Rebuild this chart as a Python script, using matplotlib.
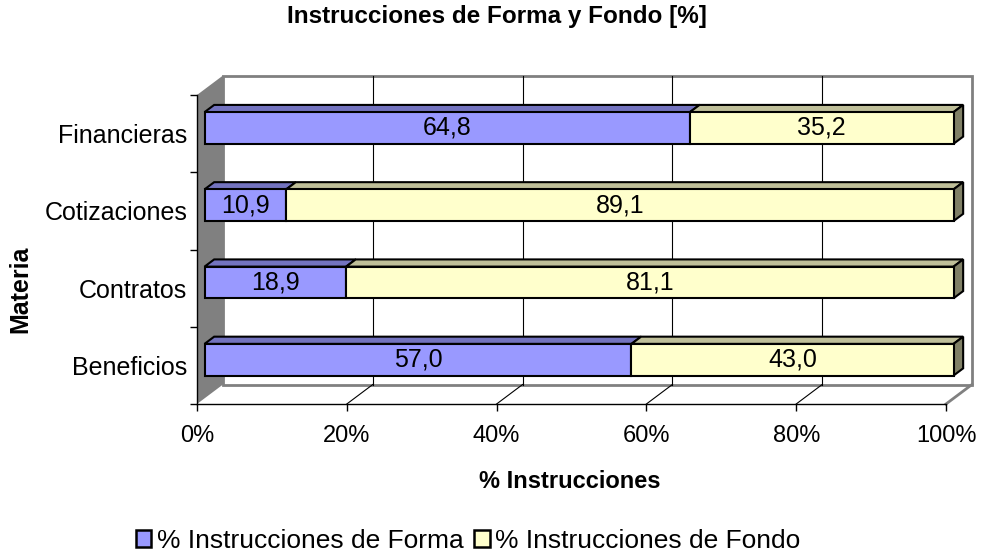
import matplotlib.pyplot as plt
from matplotlib.patches import Polygon, Patch

categorias = ['Beneficios', 'Contratos', 'Cotizaciones', 'Financieras']
forma = [57.0, 18.9, 10.9, 64.8]
fondo = [43.0, 81.1, 89.1, 35.2]
series = ['% Instrucciones de Forma', '% Instrucciones de Fondo']
ticks = [0, 20, 40, 60, 80, 100]

plt.rcParams['font.family'] = ['Liberation Sans', 'DejaVu Sans']

fig = plt.figure(figsize=(9.82, 5.54), dpi=100)
ax = fig.add_axes([197 / 982, 150 / 554, 749 / 982, 309 / 554])
ax.set_xlim(0, 100)
ax.set_ylim(-0.5, len(categorias) - 0.5)
ax.patch.set_visible(False)

# fake 3d depth, full depth offset in data units
ox = 26 / 7.49
oy = 19.5 / 77.25


def p(x, y, d):
    return (x + d * ox, y + d * oy)


ytop = len(categorias) - 0.5

# back wall
ax.add_patch(Polygon([p(0, -0.5, 1), p(100, -0.5, 1), p(100, ytop, 1), p(0, ytop, 1)],
                     closed=True, fc='white', ec='#808080', lw=2, clip_on=False, zorder=1))
for t in ticks[1:-1]:
    ax.plot(*zip(p(t, -0.5, 1), p(t, ytop, 1)), color='black', lw=0.8, clip_on=False, zorder=1.5)
    ax.plot(*zip(p(t, -0.5, 0), p(t, -0.5, 1)), color='black', lw=0.8, clip_on=False, zorder=1.5)
ax.plot(*zip(p(100, -0.5, 0), p(100, -0.5, 1)), color='#808080', lw=2, clip_on=False, zorder=1.5)

# left wall
ax.add_patch(Polygon([p(0, -0.5, 0), p(0, ytop, 0), p(0, ytop, 1), p(0, -0.5, 1)],
                     closed=True, fc='#808080', ec='none', clip_on=False, zorder=2))

# bars
h = 0.41
df, db = 0.29, 0.66
colores = [('#9999FF', '#7373BF', '#5C5C99'), ('#FFFFCC', '#BFBF99', '#808066')]
for i, (a, b) in enumerate(zip(forma, fondo)):
    y0, y1 = i - h / 2, i + h / 2
    segs = [(0, a), (a, a + b)]
    for k, (x0, x1) in enumerate(segs):
        front, top, side = colores[k]
        ax.add_patch(Polygon([p(x0, y1, df), p(x1, y1, df), p(x1, y1, db), p(x0, y1, db)],
                             fc=top, ec='black', lw=1.5, clip_on=False, zorder=3))
        if k == len(segs) - 1:
            ax.add_patch(Polygon([p(x1, y0, df), p(x1, y0, db), p(x1, y1, db), p(x1, y1, df)],
                                 fc=side, ec='black', lw=1.5, clip_on=False, zorder=3))
        ax.add_patch(Polygon([p(x0, y0, df), p(x1, y0, df), p(x1, y1, df), p(x0, y1, df)],
                             fc=front, ec='black', lw=1.5, clip_on=False, zorder=4))
        v = x1 - x0
        cx, cy = p((x0 + x1) / 2, i, df)
        ax.text(cx, cy, f'{v:.1f}'.replace('.', ','), ha='center', va='center',
                fontsize=18, zorder=5)

# front axes
for s in ['top', 'right']:
    ax.spines[s].set_visible(False)
for s in ['left', 'bottom']:
    ax.spines[s].set_linewidth(1)
    ax.spines[s].set_zorder(2.5)
ax.set_xticks(ticks)
ax.set_xticklabels([f'{t}%' for t in ticks], fontsize=17)
ax.set_yticks([y - 0.5 for y in range(len(categorias) + 1)])
ax.set_yticklabels([])
ax.set_yticks(range(len(categorias)), minor=True)
ax.set_yticklabels(categorias, minor=True, fontsize=18)
ax.tick_params(axis='x', length=5, width=1, pad=10)
ax.tick_params(axis='y', which='major', length=5, width=1)
ax.tick_params(axis='y', which='minor', length=0, pad=7)

fig.text(497 / 982, 1 - 17 / 554, 'Instrucciones de Forma y Fondo [%]', ha='center', va='center',
         fontsize=17.5, fontweight='bold')
fig.text(570 / 982, 1 - 482 / 554, '% Instrucciones', ha='center', va='center',
         fontsize=17, fontweight='bold')
fig.text(20 / 982, 1 - 289 / 554, 'Materia', ha='center', va='center', rotation=90,
         fontsize=18, fontweight='bold')

handles = [Patch(fc=colores[k][0], ec='black', lw=1.8) for k in range(2)]
fig.legend(handles, series, loc='center', bbox_to_anchor=(468 / 982, 1 - 541 / 554), ncol=2,
           frameon=False, fontsize=19, handlelength=0.6, handleheight=0.6, handletextpad=0.2,
           columnspacing=0.4)

fig.savefig('out.png', dpi=100)
